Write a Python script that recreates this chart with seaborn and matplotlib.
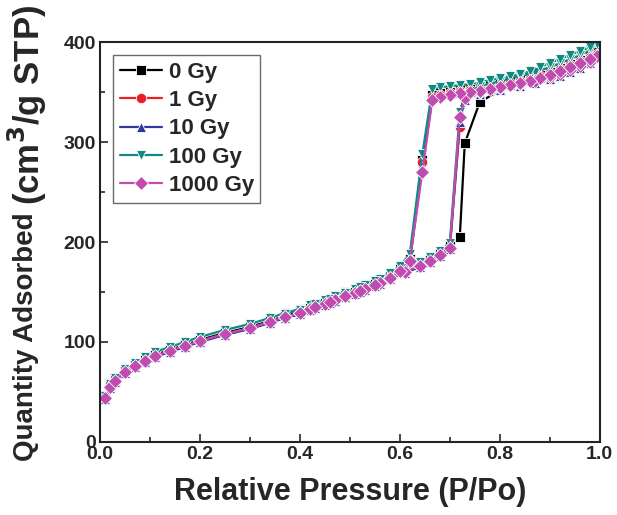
import matplotlib
matplotlib.use("Agg")
import matplotlib.pyplot as plt
from matplotlib.ticker import FormatStrFormatter, MultipleLocator
import pandas as pd
import seaborn as sns

# --- data (adsorption then desorption) ---
DOSES = ["0 Gy", "1 Gy", "10 Gy", "100 Gy", "1000 Gy"]

P_ADS = [0.01, 0.02, 0.03, 0.05, 0.07, 0.09, 0.11, 0.14, 0.17, 0.20,
         0.25, 0.30, 0.34, 0.37, 0.40, 0.42, 0.45, 0.47, 0.49, 0.51,
         0.53, 0.56, 0.58, 0.61, 0.64, 0.66, 0.68, 0.70, 0.72, 0.73,
         0.76, 0.80, 0.84, 0.87, 0.90, 0.92, 0.94, 0.96, 0.98, 0.995]
P_DES = [0.98, 0.96, 0.94, 0.92, 0.90, 0.88, 0.86, 0.84, 0.82, 0.80,
         0.78, 0.76, 0.74, 0.72, 0.70, 0.68, 0.665, 0.645, 0.62, 0.60,
         0.58, 0.55, 0.52, 0.49, 0.46, 0.43, 0.40, 0.37]

Q_0GY_ADS = [45, 56, 62, 71, 77, 82, 87, 92, 97, 102,
             109, 115, 121, 126, 130, 134, 139, 143, 147, 150,
             154, 160, 165, 171, 177, 182, 188, 196, 205, 299,
             340, 352, 358, 362, 367, 371, 375, 379, 384, 390]
Q_1GY_ADS = [44, 55, 61, 70, 76, 81, 86, 91, 96, 101,
             108, 114, 120, 125, 129, 133, 138, 142, 146, 149,
             153, 159, 164, 170, 176, 181, 187, 194, 315, 343,
             350, 354, 359, 363, 367, 370, 374, 378, 382, 388]
Q_10GY_ADS = [43, 54, 60, 69, 75, 80, 85, 90, 95, 100,
              107, 113, 119, 124, 128, 132, 137, 141, 145, 148,
              152, 158, 163, 169, 175, 180, 186, 193, 320, 342,
              348, 352, 356, 359, 363, 366, 370, 374, 379, 386]
Q_100GY_ADS = [46, 58, 64, 73, 79, 85, 90, 95, 100, 105,
               112, 118, 124, 129, 133, 137, 142, 146, 150, 153,
               157, 163, 168, 174, 180, 185, 191, 199, 330, 348,
               356, 361, 366, 370, 375, 379, 383, 387, 392, 398]
Q_1000GY_ADS = [44, 55, 61, 70, 76, 81, 86, 91, 96, 101,
                108, 114, 120, 125, 129, 133, 138, 142, 146, 149,
                153, 159, 164, 170, 176, 181, 187, 194, 325, 344,
                350, 354, 358, 361, 365, 368, 372, 376, 380, 386]

Q_0GY_DES = [386, 382, 378, 374, 370, 367, 364, 362, 360, 358,
             356, 355, 353, 352, 350, 349, 347, 282, 183, 173,
             166, 158, 152, 147, 141, 136, 130, 126]
Q_1GY_DES = [385, 381, 377, 373, 369, 366, 363, 361, 359, 357,
             355, 353, 352, 351, 349, 347, 345, 280, 182, 172,
             165, 157, 151, 146, 140, 135, 129, 125]
Q_10GY_DES = [383, 379, 375, 371, 367, 364, 361, 359, 357, 355,
              353, 351, 350, 349, 348, 346, 344, 276, 180, 170,
              163, 156, 150, 145, 139, 134, 128, 124]
Q_100GY_DES = [395, 391, 387, 383, 379, 375, 371, 368, 366, 364,
               362, 360, 358, 357, 356, 355, 353, 288, 188, 176,
               169, 161, 155, 149, 143, 138, 132, 128]
Q_1000GY_DES = [383, 379, 375, 371, 367, 364, 361, 359, 357, 355,
                353, 351, 350, 349, 347, 345, 342, 270, 181, 171,
                164, 157, 151, 146, 140, 135, 129, 125]

ADS = [Q_0GY_ADS, Q_1GY_ADS, Q_10GY_ADS, Q_100GY_ADS, Q_1000GY_ADS]
DES = [Q_0GY_DES, Q_1GY_DES, Q_10GY_DES, Q_100GY_DES, Q_1000GY_DES]

COLORS = ["#000000", "#ee1c24", "#2e3a9f", "#0f8a80", "#c04cb0"]
MARKERS = ["s", "o", "^", "v", "D"]

# long table, one continuous run per dose (adsorption then desorption)
rows = []
for dose, q_a, q_d in zip(DOSES, ADS, DES):
    for i, (p, q) in enumerate(zip(P_ADS + P_DES, q_a + q_d)):
        rows.append({"dose": dose, "order": i, "p": p, "q": q})
df = pd.DataFrame(rows)

sns.set_style("ticks")
plt.rcParams["font.family"] = ["Liberation Sans", "DejaVu Sans"]
plt.rcParams["font.weight"] = "bold"
plt.rcParams["mathtext.default"] = "bf"
plt.rcParams["xtick.direction"] = "in"
plt.rcParams["ytick.direction"] = "in"

fig = plt.figure(figsize=(6.17, 5.15), dpi=100)
ax = fig.add_axes([0.162, 0.142, 0.810, 0.776])

sns.lineplot(
    data=df, x="p", y="q", hue="dose", style="dose",
    hue_order=DOSES, style_order=DOSES,
    palette=COLORS, markers=MARKERS, dashes=False,
    sort=False, estimator=None, units="dose",
    linewidth=1.6, markersize=7.5, markeredgewidth=0.6,
    ax=ax,
)

ax.set_xlim(0, 1.0)
ax.set_ylim(0, 400)
ax.xaxis.set_major_locator(MultipleLocator(0.2))
ax.xaxis.set_minor_locator(MultipleLocator(0.1))
ax.xaxis.set_major_formatter(FormatStrFormatter("%.1f"))
ax.yaxis.set_major_locator(MultipleLocator(100))
ax.yaxis.set_minor_locator(MultipleLocator(50))
ax.tick_params(which="major", length=6, width=1.2, labelsize=14, pad=3)
ax.tick_params(which="minor", length=3.5, width=1.2)
for s in ax.spines.values():
    s.set_linewidth(1.5)
    s.set_color("#222222")

ax.set_xlabel("Relative Pressure (P/Po)", fontsize=22, fontweight="bold", labelpad=10)
ax.set_ylabel("")

# y label: first part, then the unit part, running off the top like the original
t1 = fig.text(0.042, 0.105, "Quantity Adsorbed ", rotation=90, fontsize=20,
              fontweight="bold", ha="center", va="bottom")
fig.canvas.draw()
bb = t1.get_window_extent()
y_top = bb.y1 / fig.bbox.height
fig.text(0.044, y_top, "(cm$^3$/g STP)", rotation=90, fontsize=25,
         fontweight="bold", ha="center", va="bottom")

leg = ax.legend(
    loc="upper left", bbox_to_anchor=(0.026, 0.968), fontsize=16,
    handlelength=1.9, handletextpad=0.3, labelspacing=0.33,
    borderpad=0.3, borderaxespad=0.0, frameon=True, fancybox=False,
)
leg.get_frame().set_edgecolor("#444444")
leg.get_frame().set_linewidth(1.0)
for t in leg.get_texts():
    t.set_fontweight("bold")

fig.savefig("out.png", dpi=100)
